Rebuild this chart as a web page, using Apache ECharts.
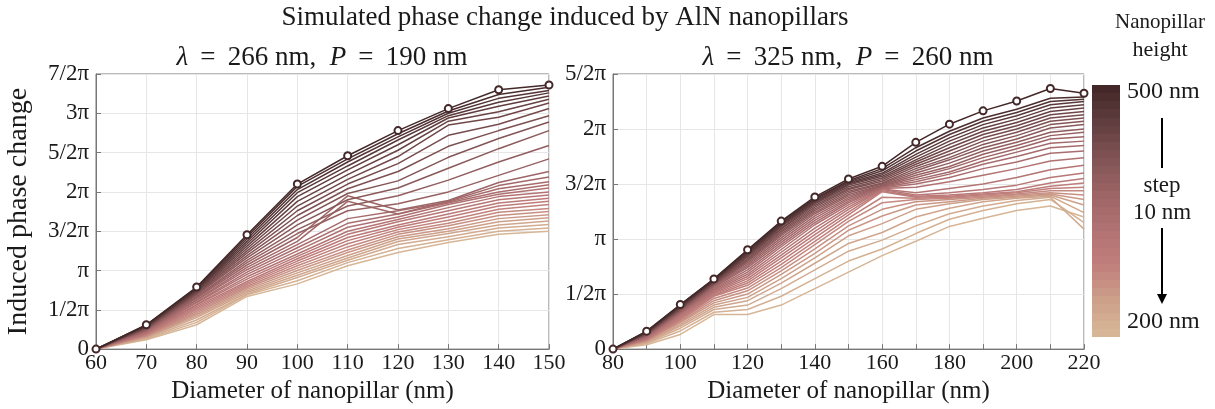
<!DOCTYPE html>
<html>
<head>
<meta charset="utf-8">
<script src="https://cdn.jsdelivr.net/npm/echarts@6/dist/echarts.min.js"></script>
<style>
html, body { margin: 0; padding: 0; background: #fff; }
#chart { width: 1215px; height: 409px; }
</style>
</head>
<body>
<div id="chart"></div>
<script>
// nanopillar heights, top (500 nm) to bottom (200 nm)
const heights = [500, 490, 480, 470, 460, 450, 440, 430, 420, 410, 400, 390, 380, 370, 360, 350,
    340, 330, 320, 310, 300, 290, 280, 270, 260, 250, 240, 230, 220, 210, 200];

const leftDiameters = [60, 70, 80, 90, 100, 110, 120, 130, 140, 150];
const rightDiameters = [80, 90, 100, 110, 120, 130, 140, 150, 160, 170, 180, 190, 200, 210, 220];

// y tick labels (phase in units of pi, step 1/2)
const piLabels = ['0', '1/2\u03c0', '\u03c0', '3/2\u03c0', '2\u03c0', '5/2\u03c0', '3\u03c0', '7/2\u03c0'];

// phase / pi, one column per diameter, rows follow `heights`
const leftPhase = [
    [0, 0, 0, 0, 0, 0, 0, 0, 0, 0, 0, 0, 0, 0, 0, 0, 0, 0, 0, 0, 0, 0, 0, 0, 0, 0, 0, 0, 0, 0, 0],
    [0.31, 0.305, 0.30, 0.295, 0.29, 0.285, 0.28, 0.275, 0.27, 0.265, 0.26, 0.25, 0.245, 0.24, 0.235, 0.23,
        0.22, 0.215, 0.21, 0.20, 0.195, 0.19, 0.18, 0.175, 0.17, 0.16, 0.155, 0.15, 0.14, 0.13, 0.12],
    [0.79, 0.78, 0.77, 0.76, 0.75, 0.74, 0.73, 0.72, 0.71, 0.70, 0.69, 0.67, 0.66, 0.65, 0.63, 0.62,
        0.60, 0.59, 0.57, 0.56, 0.54, 0.52, 0.50, 0.48, 0.46, 0.44, 0.42, 0.40, 0.37, 0.34, 0.31],
    [1.455, 1.43, 1.40, 1.37, 1.34, 1.31, 1.28, 1.25, 1.22, 1.19, 1.16, 1.13, 1.10, 1.07, 1.04, 1.01,
        0.98, 0.95, 0.92, 0.89, 0.86, 0.84, 0.82, 0.80, 0.78, 0.76, 0.74, 0.72, 0.70, 0.69, 0.67],
    [2.10, 2.07, 2.03, 1.99, 1.94, 1.88, 1.82, 1.76, 1.70, 1.64, 1.58, 1.52, 1.47, 1.42, 1.37, 1.33,
        1.29, 1.25, 1.21, 1.18, 1.15, 1.12, 1.09, 1.06, 1.03, 1.00, 0.97, 0.94, 0.91, 0.87, 0.83],
    [2.46, 2.42, 2.38, 2.33, 2.28, 2.22, 2.16, 2.10, 2.04, 1.98, 1.90, 1.82, 1.76, 1.95, 1.88, 1.66,
        1.60, 1.55, 1.50, 1.46, 1.42, 1.38, 1.34, 1.30, 1.26, 1.23, 1.19, 1.16, 1.13, 1.10, 1.06],
    [2.78, 2.74, 2.70, 2.66, 2.60, 2.53, 2.45, 2.36, 2.26, 2.14, 2.05, 1.95, 1.85, 1.77, 1.72, 1.76,
        1.72, 1.68, 1.65, 1.62, 1.58, 1.55, 1.52, 1.49, 1.46, 1.43, 1.40, 1.37, 1.33, 1.28, 1.23],
    [3.06, 3.03, 3.00, 2.97, 2.94, 2.90, 2.85, 2.72, 2.58, 2.44, 2.30, 2.15, 2.00, 1.89, 1.88, 1.87,
        1.86, 1.84, 1.80, 1.76, 1.72, 1.68, 1.64, 1.60, 1.57, 1.53, 1.50, 1.47, 1.43, 1.39, 1.355],
    [3.30, 3.24, 3.19, 3.14, 3.09, 3.02, 2.95, 2.86, 2.78, 2.68, 2.55, 2.38, 2.21, 2.12, 2.08, 2.04,
        2.00, 1.97, 1.94, 1.90, 1.86, 1.82, 1.78, 1.74, 1.70, 1.66, 1.62, 1.58, 1.54, 1.50, 1.46],
    [3.36, 3.33, 3.29, 3.26, 3.22, 3.18, 3.13, 3.06, 2.97, 2.89, 2.78, 2.59, 2.42, 2.26, 2.19, 2.13,
        2.09, 2.05, 2.00, 1.96, 1.92, 1.88, 1.84, 1.79, 1.75, 1.71, 1.67, 1.63, 1.585, 1.54, 1.50]
];

const rightPhase = [
    [0, 0, 0, 0, 0, 0, 0, 0, 0, 0, 0, 0, 0, 0, 0, 0, 0, 0, 0, 0, 0, 0, 0, 0, 0, 0, 0, 0, 0, 0, 0],
    [0.163, 0.16, 0.157, 0.154, 0.151, 0.148, 0.145, 0.142, 0.139, 0.136, 0.133, 0.13, 0.126, 0.122, 0.118, 0.114,
        0.11, 0.106, 0.102, 0.098, 0.094, 0.09, 0.086, 0.082, 0.078, 0.074, 0.07, 0.065, 0.058, 0.05, 0.04],
    [0.405, 0.40, 0.395, 0.39, 0.385, 0.38, 0.375, 0.37, 0.365, 0.36, 0.355, 0.35, 0.345, 0.34, 0.335, 0.33,
        0.325, 0.32, 0.31, 0.30, 0.29, 0.28, 0.27, 0.26, 0.25, 0.24, 0.225, 0.21, 0.19, 0.165, 0.133],
    [0.638, 0.635, 0.63, 0.625, 0.62, 0.615, 0.61, 0.605, 0.60, 0.595, 0.59, 0.585, 0.58, 0.57, 0.56, 0.55,
        0.54, 0.53, 0.52, 0.51, 0.50, 0.49, 0.48, 0.46, 0.44, 0.42, 0.40, 0.38, 0.36, 0.335, 0.314],
    [0.903, 0.895, 0.885, 0.875, 0.865, 0.855, 0.845, 0.835, 0.82, 0.81, 0.80, 0.785, 0.77, 0.755, 0.74, 0.72,
        0.70, 0.68, 0.66, 0.64, 0.62, 0.60, 0.58, 0.555, 0.53, 0.50, 0.47, 0.44, 0.40, 0.36, 0.314],
    [1.163, 1.155, 1.145, 1.135, 1.125, 1.115, 1.10, 1.09, 1.075, 1.06, 1.045, 1.03, 1.01, 0.99, 0.97, 0.95,
        0.93, 0.905, 0.88, 0.855, 0.83, 0.80, 0.77, 0.74, 0.71, 0.68, 0.64, 0.60, 0.55, 0.48, 0.40],
    [1.383, 1.37, 1.36, 1.35, 1.34, 1.33, 1.32, 1.305, 1.29, 1.275, 1.26, 1.245, 1.23, 1.21, 1.19, 1.17,
        1.15, 1.13, 1.10, 1.07, 1.04, 1.01, 0.98, 0.95, 0.91, 0.87, 0.83, 0.78, 0.72, 0.64, 0.55],
    [1.546, 1.53, 1.52, 1.51, 1.50, 1.49, 1.475, 1.46, 1.45, 1.435, 1.42, 1.405, 1.39, 1.375, 1.36, 1.345,
        1.33, 1.31, 1.29, 1.27, 1.245, 1.22, 1.19, 1.16, 1.12, 1.08, 1.03, 0.96, 0.89, 0.80, 0.70],
    [1.661, 1.64, 1.62, 1.60, 1.585, 1.57, 1.555, 1.54, 1.525, 1.51, 1.50, 1.49, 1.485, 1.48, 1.475, 1.47,
        1.465, 1.46, 1.455, 1.45, 1.44, 1.43, 1.38, 1.33, 1.27, 1.21, 1.14, 1.06, 0.99, 0.91, 0.85],
    [1.879, 1.83, 1.80, 1.77, 1.745, 1.72, 1.70, 1.68, 1.66, 1.64, 1.62, 1.60, 1.58, 1.56, 1.54, 1.52,
        1.50, 1.47, 1.42, 1.40, 1.39, 1.38, 1.37, 1.36, 1.34, 1.31, 1.27, 1.20, 1.12, 1.05, 0.98],
    [2.044, 1.98, 1.95, 1.92, 1.89, 1.86, 1.83, 1.80, 1.77, 1.74, 1.72, 1.69, 1.66, 1.64, 1.61, 1.59,
        1.56, 1.52, 1.46, 1.42, 1.40, 1.39, 1.38, 1.37, 1.36, 1.34, 1.32, 1.28, 1.23, 1.18, 1.115],
    [2.165, 2.10, 2.07, 2.04, 2.01, 1.98, 1.95, 1.92, 1.89, 1.86, 1.83, 1.80, 1.77, 1.74, 1.71, 1.68,
        1.64, 1.58, 1.50, 1.45, 1.42, 1.41, 1.40, 1.39, 1.38, 1.37, 1.36, 1.34, 1.30, 1.26, 1.19],
    [2.255, 2.18, 2.15, 2.12, 2.09, 2.06, 2.03, 2.00, 1.97, 1.94, 1.91, 1.88, 1.85, 1.82, 1.79, 1.75,
        1.70, 1.64, 1.56, 1.49, 1.45, 1.43, 1.42, 1.41, 1.40, 1.39, 1.38, 1.37, 1.35, 1.32, 1.26],
    [2.368, 2.28, 2.25, 2.22, 2.19, 2.16, 2.13, 2.10, 2.07, 2.04, 2.01, 1.97, 1.94, 1.91, 1.87, 1.83,
        1.78, 1.71, 1.63, 1.56, 1.51, 1.48, 1.46, 1.44, 1.42, 1.41, 1.40, 1.39, 1.38, 1.36, 1.30],
    [2.325, 2.29, 2.27, 2.25, 2.22, 2.19, 2.16, 2.13, 2.10, 2.07, 2.04, 2.00, 1.97, 1.93, 1.89, 1.85,
        1.80, 1.74, 1.67, 1.60, 1.55, 1.51, 1.47, 1.44, 1.40, 1.36, 1.31, 1.24, 1.09, 1.15, 1.20]
];

const FONT = 'Liberation Serif';
const INK = '#1a1a1a';

// colormap: 0 = 200 nm (tan) ... 1 = 500 nm (dark brown)
const cmap = [
    [0, [214, 182, 150]],
    [0.12, [206, 163, 139]],
    [0.27, [193, 128, 124]],
    [0.42, [178, 114, 115]],
    [0.58, [155, 100, 101]],
    [0.76, [120, 77, 78]],
    [0.9, [88, 56, 57]],
    [1, [68, 40, 41]]
];

function colorAt(t) {
    for (let i = 1; i < cmap.length; i++) {
        if (t <= cmap[i][0]) {
            const a = cmap[i - 1], b = cmap[i];
            const f = (t - a[0]) / (b[0] - a[0]);
            const c = a[1].map((v, k) => Math.round(v + (b[1][k] - v) * f));
            return 'rgb(' + c.join(',') + ')';
        }
    }
    return 'rgb(' + cmap[cmap.length - 1][1].join(',') + ')';
}

function buildSeries(diams, phase, axisIdx) {
    const out = [];
    // draw 200 nm first so 500 nm ends on top
    for (let i = heights.length - 1; i >= 0; i--) {
        const h = heights[i];
        const col = colorAt((h - 200) / 300);
        const top = i === 0;
        out.push({
            type: 'line',
            name: h + ' nm',
            xAxisIndex: axisIdx,
            yAxisIndex: axisIdx,
            data: diams.map((d, k) => [d, phase[k][i]]),
            symbol: top ? 'emptyCircle' : 'none',
            symbolSize: 7,
            showSymbol: top,
            lineStyle: {color: col, width: 1.5},
            itemStyle: {color: col, borderColor: col, borderWidth: 1.4},
            silent: true
        });
    }
    return out;
}

function xAxisOf(grid, min, max, name, labelEvery, namePad) {
    return {
        type: 'value', gridIndex: grid, min: min, max: max, interval: 10,
        axisLine: {show: true, lineStyle: {color: '#777', width: 1}},
        axisTick: {show: true, inside: true, length: 5, lineStyle: {color: '#777'}},
        axisLabel: {
            color: INK, fontFamily: FONT, fontSize: 22, margin: 3,
            formatter: v => (v % labelEvery === 0 ? String(v) : '')
        },
        splitLine: {show: true, lineStyle: {color: '#e6e6e6', width: 1}},
        name: name, nameLocation: 'middle', nameGap: 22,
        nameTextStyle: {color: INK, fontFamily: FONT, fontSize: 25, padding: namePad}
    };
}

function yAxisOf(grid, max, name) {
    return {
        type: 'value', gridIndex: grid, min: 0, max: max, interval: 0.5,
        axisLine: {show: true, lineStyle: {color: '#777', width: 1}},
        axisTick: {show: true, inside: true, length: 5, lineStyle: {color: '#777'}},
        axisLabel: {
            color: INK, fontFamily: FONT, fontSize: 23, margin: 7,
            formatter: v => piLabels[Math.round(v / 0.5)]
        },
        splitLine: {show: true, lineStyle: {color: '#e6e6e6', width: 1}},
        name: name, nameLocation: 'middle', nameGap: 63, nameRotate: 90,
        nameTextStyle: {color: INK, fontFamily: FONT, fontSize: 28}
    };
}

const barStops = [];
for (let i = 0; i < heights.length; i++) {
    const col = colorAt((heights[i] - 200) / 300);
    barStops.push({offset: i / heights.length, color: col});
    barStops.push({offset: (i + 1) / heights.length, color: col});
}

const SP = '\u2009';
const subRich = {i: {fontStyle: 'italic', fontFamily: FONT, fontSize: 27, fill: INK}};

const chart = echarts.init(document.getElementById('chart'));
chart.setOption({
    animation: false,
    backgroundColor: '#fff',
    grid: [
        {left: 96, top: 74, width: 453, height: 279, show: true, borderColor: '#777', borderWidth: 1},
        {left: 613, top: 74, width: 471, height: 277, show: true, borderColor: '#777', borderWidth: 1}
    ],
    xAxis: [
        xAxisOf(0, 60, 150, 'Diameter of nanopillar (nm)', 10, [0, 20, 0, 0]),
        xAxisOf(1, 80, 220, 'Diameter of nanopillar (nm)', 20, 0)
    ],
    yAxis: [
        yAxisOf(0, 3.5, 'Induced phase change'),
        yAxisOf(1, 2.5, '')
    ],
    series: buildSeries(leftDiameters, leftPhase, 0).concat(buildSeries(rightDiameters, rightPhase, 1)),
    graphic: [
        {type: 'text', x: 565, y: 18, style: {
            text: 'Simulated phase change induced by AlN nanopillars',
            fontFamily: FONT, fontSize: 27, fill: INK, align: 'center', verticalAlign: 'middle'}},
        {type: 'text', x: 322, y: 58, style: {
            text: '{i|\u03bb}' + SP + ' = ' + SP + '266 nm,  {i|P}' + SP + ' = ' + SP + '190 nm',
            rich: subRich,
            fontFamily: FONT, fontSize: 27, fill: INK, align: 'center', verticalAlign: 'middle'}},
        {type: 'text', x: 848, y: 58, style: {
            text: '{i|\u03bb}' + SP + ' = ' + SP + '325 nm,  {i|P}' + SP + ' = ' + SP + '260 nm',
            rich: subRich,
            fontFamily: FONT, fontSize: 27, fill: INK, align: 'center', verticalAlign: 'middle'}},
        {type: 'rect', shape: {x: 1092, y: 85, width: 28, height: 252}, style: {
            fill: new echarts.graphic.LinearGradient(0, 0, 0, 1, barStops)}},
        {type: 'text', x: 1160, y: 22, style: {text: 'Nanopillar', fontFamily: FONT, fontSize: 21,
            fill: INK, align: 'center', verticalAlign: 'middle'}},
        {type: 'text', x: 1160, y: 50, style: {text: 'height', fontFamily: FONT, fontSize: 22,
            fill: INK, align: 'center', verticalAlign: 'middle'}},
        {type: 'text', x: 1127, y: 92, style: {text: '500 nm', fontFamily: FONT, fontSize: 24,
            fill: INK, align: 'left', verticalAlign: 'middle'}},
        {type: 'text', x: 1127, y: 322, style: {text: '200 nm', fontFamily: FONT, fontSize: 24,
            fill: INK, align: 'left', verticalAlign: 'middle'}},
        {type: 'text', x: 1162, y: 186, style: {text: 'step', fontFamily: FONT, fontSize: 23,
            fill: INK, align: 'center', verticalAlign: 'middle'}},
        {type: 'text', x: 1162, y: 213, style: {text: '10 nm', fontFamily: FONT, fontSize: 23,
            fill: INK, align: 'center', verticalAlign: 'middle'}},
        {type: 'line', shape: {x1: 1162, y1: 118, x2: 1162, y2: 168}, style: {stroke: '#000', lineWidth: 2}},
        {type: 'line', shape: {x1: 1162, y1: 228, x2: 1162, y2: 296}, style: {stroke: '#000', lineWidth: 2}},
        {type: 'polygon', shape: {points: [[1157, 294], [1167, 294], [1162, 304]]}, style: {fill: '#000'}}
    ]
});
</script>
</body>
</html>
